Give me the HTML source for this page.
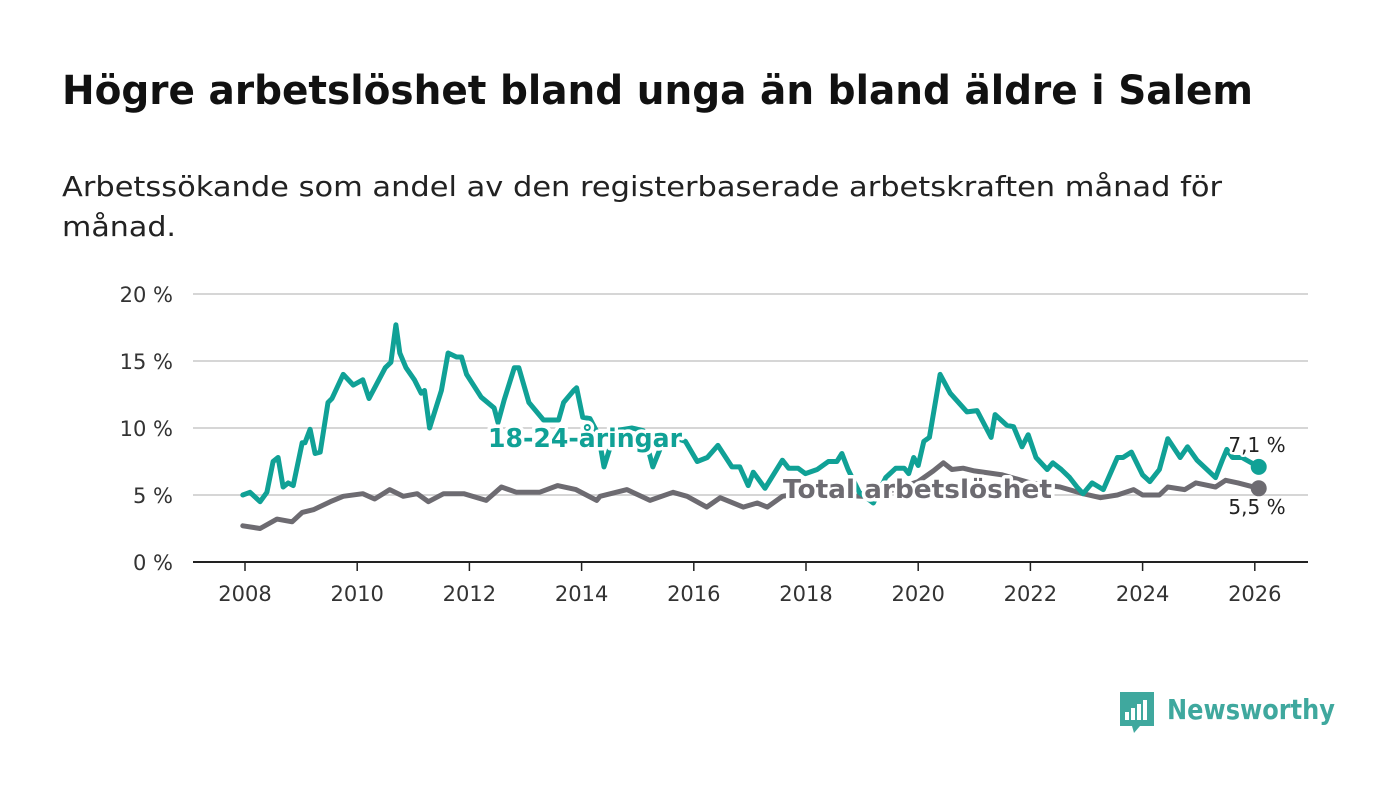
<!DOCTYPE html>
<html><head><meta charset="utf-8"><style>
body{margin:0;width:1400px;height:794px;background:#fff;font-family:"DejaVu Sans","Liberation Sans",sans-serif;overflow:hidden}
svg{position:absolute;left:0;top:0}
</style></head><body>
<svg id="chart" width="1400" height="794">
<text x="62" y="104" font-size="40" font-weight="bold" fill="#111" textLength="1191" lengthAdjust="spacingAndGlyphs">Högre arbetslöshet bland unga än bland äldre i Salem</text>
<text x="62" y="196" font-size="28" fill="#222" textLength="1160" lengthAdjust="spacingAndGlyphs">Arbetssökande som andel av den registerbaserade arbetskraften månad för</text>
<text x="62" y="236" font-size="28" fill="#222" textLength="114" lengthAdjust="spacingAndGlyphs">månad.</text>
</svg>
<script>
const yTicks=[0,5,10,15,20];
const yTickLabels=["0 %","5 %","10 %","15 %","20 %"];
const xTicks=[2008,2010,2012,2014,2016,2018,2020,2022,2024,2026];
const youthYears=[2007.96,2008.09,2008.27,2008.39,2008.5,2008.59,2008.68,2008.77,2008.86,2009.02,2009.07,2009.16,2009.25,2009.34,2009.48,2009.55,2009.75,2009.93,2010.1,2010.21,2010.5,2010.6,2010.69,2010.76,2010.87,2011.02,2011.14,2011.2,2011.29,2011.5,2011.62,2011.77,2011.86,2011.95,2012.21,2012.44,2012.51,2012.62,2012.8,2012.88,2013.06,2013.32,2013.59,2013.68,2013.86,2013.91,2014.02,2014.15,2014.3,2014.4,2014.6,2014.9,2015.1,2015.27,2015.5,2015.85,2016.06,2016.24,2016.43,2016.68,2016.82,2016.97,2017.06,2017.27,2017.58,2017.69,2017.86,2017.99,2018.2,2018.4,2018.55,2018.64,2018.75,2018.95,2019.2,2019.42,2019.6,2019.75,2019.83,2019.92,2020.0,2020.1,2020.2,2020.39,2020.57,2020.87,2021.05,2021.3,2021.37,2021.58,2021.7,2021.85,2021.96,2022.1,2022.3,2022.4,2022.55,2022.7,2022.83,2022.94,2023.1,2023.3,2023.55,2023.65,2023.8,2024.0,2024.13,2024.3,2024.45,2024.67,2024.8,2024.97,2025.3,2025.42,2025.5,2025.6,2025.77,2026.07];
const youthValues=[5.0,5.2,4.5,5.2,7.5,7.8,5.6,5.9,5.7,8.9,8.9,9.9,8.1,8.2,11.9,12.2,14.0,13.2,13.6,12.2,14.5,14.9,17.7,15.6,14.5,13.6,12.6,12.8,10.0,12.8,15.6,15.3,15.3,14.0,12.3,11.5,10.4,12.1,14.5,14.5,11.9,10.6,10.6,11.9,12.8,13.0,10.8,10.7,9.5,7.1,9.8,10.0,9.8,7.1,9.5,9.0,7.5,7.8,8.7,7.1,7.1,5.7,6.7,5.5,7.6,7.0,7.0,6.6,6.9,7.5,7.5,8.1,6.9,5.2,4.4,6.3,7.0,7.0,6.6,7.8,7.2,9.0,9.3,14.0,12.6,11.2,11.3,9.3,11.0,10.2,10.1,8.6,9.5,7.8,6.9,7.4,6.9,6.3,5.6,5.1,5.9,5.4,7.8,7.8,8.2,6.5,6.0,6.9,9.2,7.8,8.6,7.6,6.3,7.6,8.4,7.8,7.8,7.1];
const totalYears=[2007.96,2008.27,2008.57,2008.84,2009.02,2009.22,2009.52,2009.75,2010.1,2010.31,2010.58,2010.82,2011.07,2011.27,2011.54,2011.9,2012.3,2012.57,2012.84,2013.25,2013.57,2013.9,2014.27,2014.33,2014.81,2015.22,2015.63,2015.88,2016.23,2016.47,2016.88,2017.13,2017.31,2017.58,2018.0,2018.5,2019.0,2019.5,2020.0,2020.27,2020.45,2020.6,2020.8,2021.0,2021.5,2022.0,2022.53,2022.94,2023.25,2023.55,2023.84,2024.0,2024.3,2024.45,2024.75,2024.95,2025.3,2025.48,2025.7,2026.07];
const totalValues=[2.7,2.5,3.2,3.0,3.7,3.9,4.5,4.9,5.1,4.7,5.4,4.9,5.1,4.5,5.1,5.1,4.6,5.6,5.2,5.2,5.7,5.4,4.6,4.9,5.4,4.6,5.2,4.9,4.1,4.8,4.1,4.4,4.1,4.9,5.2,5.0,4.9,5.3,6.0,6.8,7.4,6.9,7.0,6.8,6.5,5.9,5.6,5.1,4.8,5.0,5.4,5.0,5.0,5.6,5.4,5.9,5.6,6.1,5.9,5.5];
const NS="http://www.w3.org/2000/svg";
const svg=document.getElementById('chart');
const X=y=>245+(y-2008)*56.1, Y=v=>562-v*13.4;
function mk(t,a,p){const e=document.createElementNS(NS,t);for(const k in a)e.setAttribute(k,a[k]);(p||svg).appendChild(e);return e;}
yTicks.forEach((v,i)=>{
 const l=mk('line',{x1:193,x2:1308,y1:Y(v),y2:Y(v),stroke:v===0?'#222':'#d6d6d6','stroke-width':2});
 
 
 const t=mk('text',{x:173,y:Y(v)+8,'text-anchor':'end','font-size':21,fill:'#333'});
 t.textContent=yTickLabels[i];
 
 
});
xTicks.forEach(yr=>{
 const l=mk('line',{x1:X(yr),x2:X(yr),y1:562,y2:571,stroke:'#222','stroke-width':1.5});
 
 
 const t=mk('text',{x:X(yr),y:601,'text-anchor':'middle','font-size':21,fill:'#333'});
 t.textContent=yr;
 
 
});
function line(xs,vs,c,name){
 const d=xs.map((x,i)=>(i?'L':'M')+X(x).toFixed(1)+','+Y(vs[i]).toFixed(1)).join('');
 const p=mk('path',{d:d,fill:'none',stroke:c,'stroke-width':5,'stroke-linejoin':'round','stroke-linecap':'round'});
 
 
 const n=xs.length-1;
 const c2=mk('circle',{cx:X(xs[n]),cy:Y(vs[n]),r:8,fill:c});
 
 
}
line(totalYears,totalValues,'#6d6b71','total-line');
line(youthYears,youthValues,'#10a196','youth-line');
function lab(x,y,txt,c,name,anchor,size,bold,len){
 const a={x:x,y:y,'font-size':size,'font-weight':bold?'bold':'normal',fill:c,stroke:'#fff','stroke-width':bold?7:5,'paint-order':'stroke','stroke-linejoin':'round','text-anchor':anchor||'start'};
 if(len){a.textLength=len;a.lengthAdjust='spacingAndGlyphs';}
 const t=mk('text',a);
 t.textContent=txt;
 
 
}
lab(488,447,'18-24-åringar','#10a196','youth-series-label','start',26,true,194);
lab(783,498,'Total arbetslöshet','#6d6b71','total-series-label','start',26,true,269);
const ly=youthValues[youthValues.length-1], lt=totalValues[totalValues.length-1];
lab(1257,452,ly.toFixed(1).replace('.',',')+' %','#222','youth-end-value','middle',20,false);
lab(1257,514,lt.toFixed(1).replace('.',',')+' %','#222','total-end-value','middle',20,false);
const g=mk('g',{});


mk('path',{d:'M1120,692h34v34h-14l-6,7l-2,-7h-12z',fill:'#3fa89e'},g);
[[1125,712,4,8],[1131,708,4,12],[1137,704,4,16],[1143,700,4,20]].forEach(r=>mk('rect',{x:r[0],y:r[1],width:r[2],height:r[3],fill:'#fff'},g));
const lt2=mk('text',{x:1167,y:719,'font-size':28,'font-weight':'bold',fill:'#3fa89e',textLength:168,lengthAdjust:'spacingAndGlyphs'},g);
lt2.textContent='Newsworthy';
</script>
</body></html>
